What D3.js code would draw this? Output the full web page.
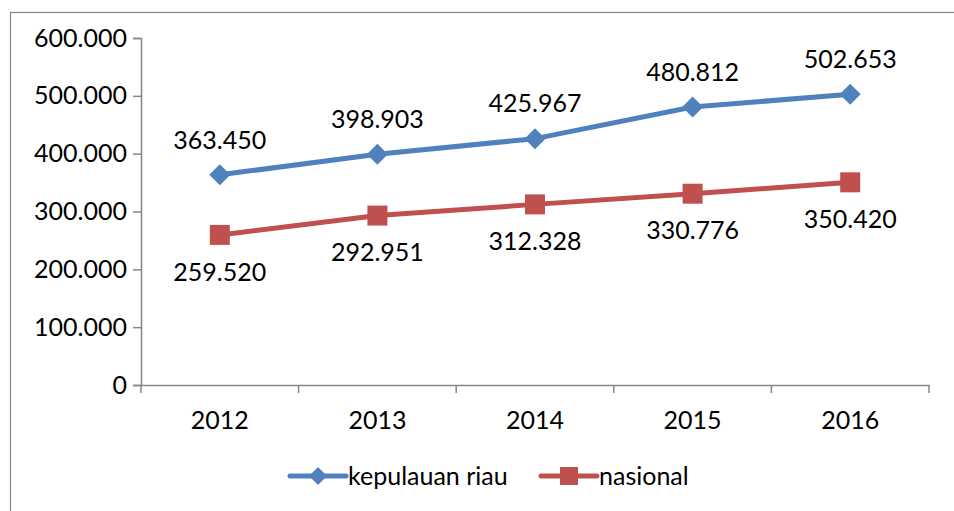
<!DOCTYPE html>
<html>
<head>
<meta charset="utf-8">
<script src="https://cdn.jsdelivr.net/npm/d3@7"></script>
<style>
  body { margin: 0; background: #fff; }
  text { font-family: Lato, "Open Sans", sans-serif; fill: #000; }
</style>
</head>
<body>
<svg id="chart" width="954" height="511"></svg>
<script>
const years = ["2012", "2013", "2014", "2015", "2016"];
const kepri = [363.450, 398.903, 425.967, 480.812, 502.653];
const nasional = [259.520, 292.951, 312.328, 330.776, 350.420];
const yTicks = [0, 100, 200, 300, 400, 500, 600];
const seriesNames = ["kepulauan riau", "nasional"];

const svg = d3.select("#chart");
const width = +svg.attr("width");
const height = +svg.attr("height");
const margin = { top: 38, right: 25, bottom: 126, left: 141 };
const FONT = 25;
const axisColor = "#868686";
const blue = "#4F81BD";
const red = "#C0504D";

// outer chart border (right and bottom run off the picture)
svg.append("rect")
  .attr("x", 10.5).attr("y", 12.5)
  .attr("width", width + 10).attr("height", height + 10)
  .attr("fill", "none").attr("stroke", axisColor).attr("stroke-width", 1.2);

const x = d3.scaleBand()
  .domain(years)
  .range([margin.left, width - margin.right]);

const y = d3.scaleLinear()
  .domain([0, 600])
  .range([height - margin.bottom, margin.top]);

// numbers written the Indonesian way: 363.450
const fmt = (v) => v === 0 ? "0" : d3.format(".3f")(v);

const yAxis = svg.append("g")
  .attr("transform", `translate(${margin.left},0)`)
  .call(d3.axisLeft(y).tickValues(yTicks).tickSize(8).tickPadding(6).tickFormat(fmt));

// x axis, ticks sit on the category boundaries
const xAxis = svg.append("g")
  .attr("transform", `translate(0,${y(0)})`)
  .call(d3.axisBottom(x).tickSize(0).tickPadding(26).tickSizeOuter(0));
const bounds = years.map((d) => x(d)).concat([x(years[years.length - 1]) + x.bandwidth()]);
xAxis.selectAll(".bound")
  .data(bounds)
  .enter()
  .append("line")
  .attr("class", "bound")
  .attr("x1", (d) => d).attr("x2", (d) => d)
  .attr("y1", 0).attr("y2", 8);

[yAxis, xAxis].forEach((g) => {
  g.selectAll("line, .domain").attr("stroke", axisColor).attr("stroke-width", 1.5);
  g.selectAll("text").attr("font-size", FONT).attr("fill", "#000")
    .style("font-family", "Lato, 'Open Sans', sans-serif");
});

const cx = (i) => x(years[i]) + x.bandwidth() / 2;

const line = d3.line()
  .x((d, i) => cx(i))
  .y((d) => y(d));

const series = [
  { values: kepri, color: blue, marker: "diamond", labelDy: -35 },
  { values: nasional, color: red, marker: "square", labelDy: 37 },
];

const markerPath = (m, r) =>
  m === "diamond" ? `M0,${-r}L${r},0L0,${r}L${-r},0Z` : `M${-r},${-r}H${r}V${r}H${-r}Z`;

series.forEach((s) => {
  svg.append("path")
    .datum(s.values)
    .attr("d", line)
    .attr("fill", "none")
    .attr("stroke", s.color)
    .attr("stroke-width", 5)
    .attr("stroke-linejoin", "round");

  svg.selectAll(null)
    .data(s.values)
    .enter()
    .append("path")
    .attr("transform", (d, i) => `translate(${cx(i)},${y(d)})`)
    .attr("d", markerPath(s.marker, s.marker === "diamond" ? 10.5 : 10))
    .attr("fill", s.color);

  svg.selectAll(null)
    .data(s.values)
    .enter()
    .append("text")
    .attr("x", (d, i) => cx(i))
    .attr("y", (d) => y(d) + s.labelDy)
    .attr("dy", "0.35em")
    .attr("text-anchor", "middle")
    .attr("font-size", FONT)
    .text(fmt);
});

// legend
const legendY = 476;
const legendItems = [
  { name: seriesNames[0], color: blue, marker: "diamond", x0: 290 },
  { name: seriesNames[1], color: red, marker: "square", x0: 541 },
];
legendItems.forEach((l) => {
  const g = svg.append("g").attr("transform", `translate(${l.x0},${legendY})`);
  g.append("line")
    .attr("x1", 0).attr("x2", 56)
    .attr("stroke", l.color).attr("stroke-width", 5).attr("stroke-linecap", "round");
  g.append("path")
    .attr("transform", "translate(28,0)")
    .attr("d", markerPath(l.marker, 9))
    .attr("fill", l.color);
  g.append("text")
    .attr("x", 58)
    .attr("dy", "0.35em")
    .attr("font-size", FONT)
    .text(l.name);
});
</script>
</body>
</html>
